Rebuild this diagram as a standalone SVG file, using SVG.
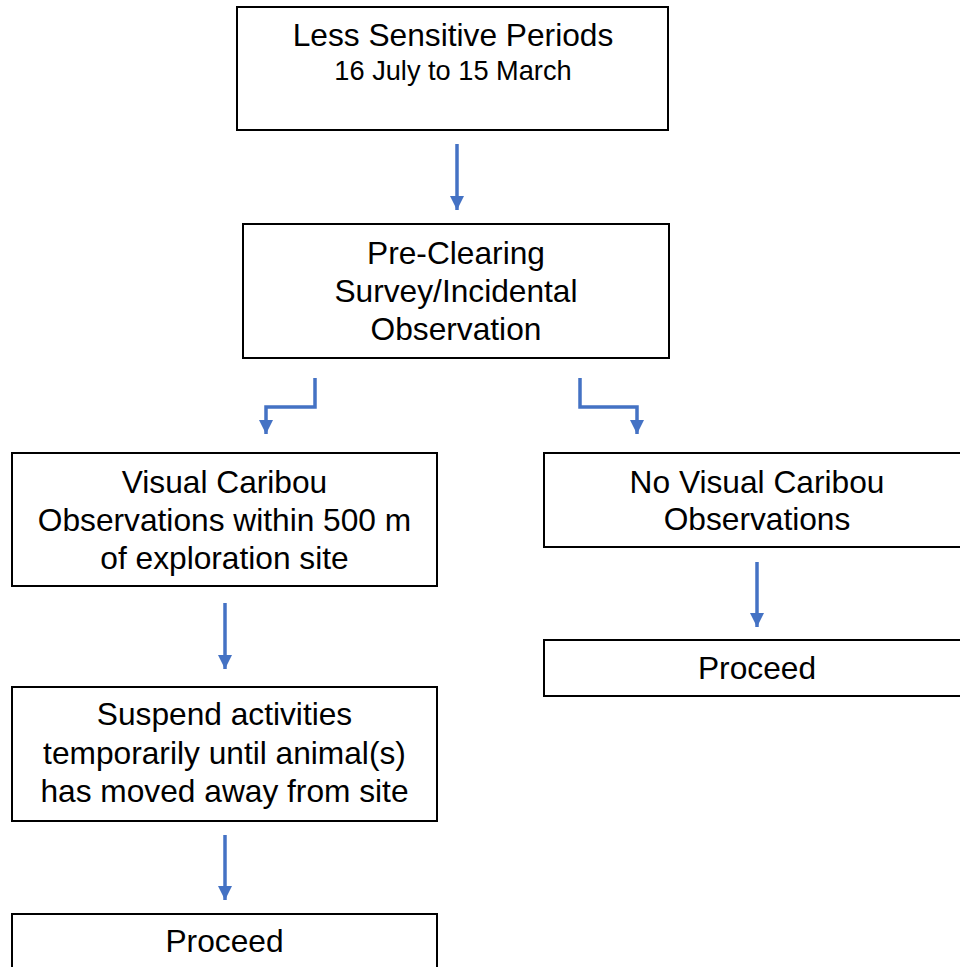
<svg xmlns="http://www.w3.org/2000/svg" width="960" height="967" viewBox="0 0 960 967">
  <style>
    .box { fill: #ffffff; stroke: #000000; stroke-width: 2; }
    .t { font-family: "Liberation Sans", Arial, sans-serif; font-size: 31.7px; fill: #000000; text-anchor: middle; }
    .t2 { font-size: 27.2px; }
    .conn { fill: none; stroke: #4472C4; stroke-width: 3.5; marker-end: url(#arrow); }
  </style>
  <defs>
    <marker id="arrow" markerUnits="userSpaceOnUse" markerWidth="14" markerHeight="14" viewBox="0 0 14 14" refX="14" refY="7" orient="auto">
      <path d="M0,0 L14,7 L0,14 Z" fill="#4472C4"/>
    </marker>
  </defs>
  <rect width="960" height="967" fill="#ffffff"/>

  <g id="connectors">
    <path class="conn" d="M457,144 V210"/>
    <path class="conn" d="M315,378 V407 H266 V434"/>
    <path class="conn" d="M580,378 V407 H637 V434"/>
    <path class="conn" d="M225,603 V669"/>
    <path class="conn" d="M225,835 V900"/>
    <path class="conn" d="M757,562 V627"/>
  </g>

  <g id="less-sensitive">
    <rect class="box" x="237" y="7" width="431" height="123"/>
    <text class="t" x="453" y="46">Less Sensitive Periods</text>
    <text class="t t2" x="453" y="80">16 July to 15 March</text>
  </g>

  <g id="pre-clearing">
    <rect class="box" x="243" y="224" width="426" height="134"/>
    <text class="t" x="456" y="263.5">Pre-Clearing</text>
    <text class="t" x="456" y="301.5">Survey/Incidental</text>
    <text class="t" x="456" y="339.5">Observation</text>
  </g>

  <g id="visual-obs">
    <rect class="box" x="12" y="453" width="425" height="133"/>
    <text class="t" x="224.5" y="492.5">Visual Caribou</text>
    <text class="t" x="224.5" y="530.5">Observations within 500 m</text>
    <text class="t" x="224.5" y="568.5">of exploration site</text>
  </g>

  <g id="no-visual-obs">
    <rect class="box" x="544" y="453" width="426" height="94"/>
    <text class="t" x="757" y="492.5">No Visual Caribou</text>
    <text class="t" x="757" y="530">Observations</text>
  </g>

  <g id="suspend">
    <rect class="box" x="12" y="687" width="425" height="134"/>
    <text class="t" x="224.5" y="725">Suspend activities</text>
    <text class="t" x="224.5" y="763.5">temporarily until animal(s)</text>
    <text class="t" x="224.5" y="801.5">has moved away from site</text>
  </g>

  <g id="proceed-right">
    <rect class="box" x="544" y="640" width="426" height="56"/>
    <text class="t" x="757" y="679">Proceed</text>
  </g>

  <g id="proceed-left">
    <rect class="box" x="12" y="914" width="425" height="80"/>
    <text class="t" x="224.5" y="952">Proceed</text>
  </g>
</svg>
